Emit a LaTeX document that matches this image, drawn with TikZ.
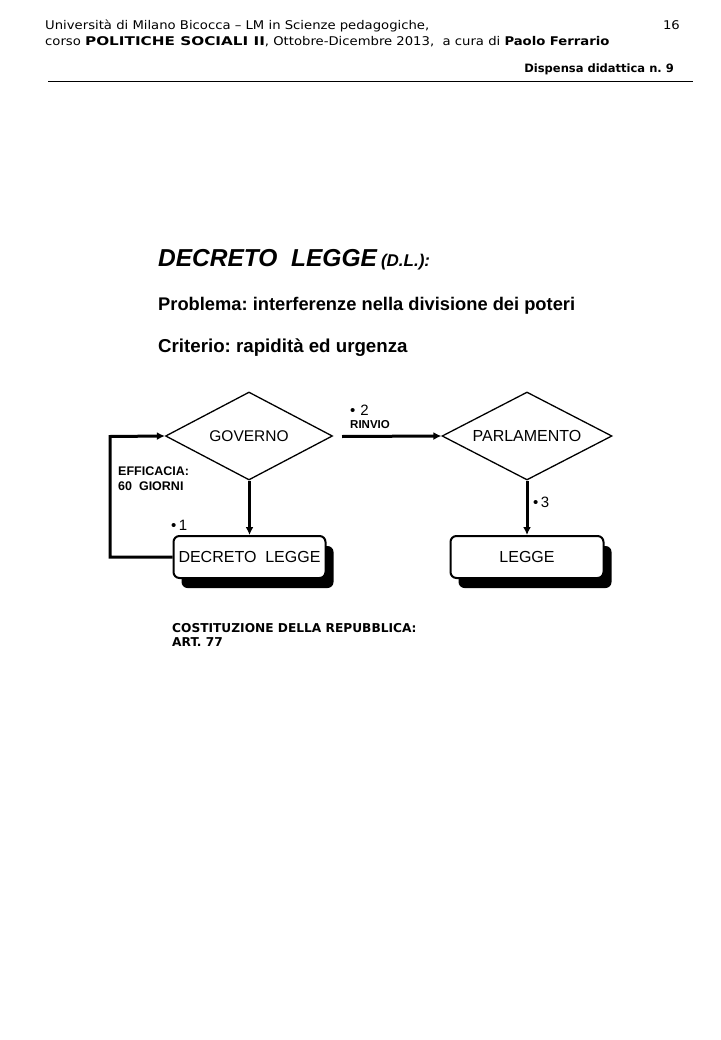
\documentclass[tikz,border=0pt]{standalone}
\usepackage{fontspec}
\setmainfont{Liberation Sans}
\newfontfamily\verd[FakeStretch=1.1]{DejaVu Sans}
\newfontfamily\verdn{DejaVu Sans}
\newfontfamily\verdcaps[FakeStretch=1.27]{DejaVu Sans}
\newfontfamily\verdname[FakeStretch=1.1]{DejaVu Sans}
\usetikzlibrary{shapes.geometric,arrows.meta,shadows}
\frenchspacing
\begin{document}
\begin{tikzpicture}[x=1pt,y=-1pt,
  hdr/.style={anchor=base west,inner sep=0,font=\verd\fontsize{12}{14}\selectfont},
  dia/.style={diamond,draw,line width=1.3pt,minimum width=167pt,minimum height=88pt,inner sep=0},
  dlab/.style={font=\fontsize{15.5}{18}\selectfont,inner sep=0},
  box/.style={rectangle,rounded corners=6pt,draw,line width=2pt,fill=white,minimum width=152pt,minimum height=42pt,inner sep=0,font=\fontsize{16}{18}\selectfont,
    drop shadow={shadow xshift=8pt,shadow yshift=-10pt,fill=black,opacity=1}},
  conn/.style={line width=3pt,-{Latex[length=8pt,width=8pt]}},
  lbl/.style={anchor=base west,inner sep=0},
]
\useasboundingbox (0,0) rectangle (720,1040);
\fill[white] (0,0) rectangle (720,1040);
% header
\node[hdr] (h1) at (45,30) {Università di Milano Bicocca – LM in Scienze pedagogiche,};
\node[hdr] (h2) at (45,46) {corso {\verdcaps\bfseries\fontsize{12}{14}\selectfont POLITICHE SOCIALI II}, Ottobre-Dicembre 2013,\ \ a cura di {\verdname\bfseries\fontsize{12}{14}\selectfont Paolo Ferrario}};
\node[hdr,anchor=base east] (pg) at (680,30) {16};
\node[hdr,anchor=base east,font=\verdn\bfseries\fontsize{11.5}{13}\selectfont] (disp) at (674,73) {Dispensa didattica n. 9};
\coordinate (rl) at (48,82);
\coordinate (rr) at (693,82);
\draw[line width=1pt] (rl) -- (rr);
% titles
\node[lbl,font=\bfseries\itshape\fontsize{24.5}{27}\selectfont] (title) at (158,267) {DECRETO\ \ LEGGE\,{\fontsize{17}{19}\selectfont(D.L.):}};
\node[lbl,font=\bfseries\fontsize{18.3}{22}\selectfont] (prob) at (158,310) {Problema: interferenze nella divisione dei poteri};
\node[lbl,font=\bfseries\fontsize{18.7}{22}\selectfont] (crit) at (158,352) {Criterio: rapidità ed urgenza};
% diagram
\node[dia,label={[dlab]center:GOVERNO}] (gov) at (249,436) {};
\node[dia,minimum width=170pt,label={[dlab,font=\fontsize{16}{18}\selectfont]center:PARLAMENTO}] (parl) at (527,436) {};
\node[box] (dl) at (249.5,557) {DECRETO\ \ LEGGE};
\node[box,minimum width=153pt] (legge) at (527,557) {LEGGE};
\coordinate (rs) at (342,436.5);
\draw[conn] (rs) -- (parl.west);
\draw[conn] (gov.south -| dl.north) -- (dl.north);
\draw[conn] (parl.south -| legge.north) -- (legge.north);
\coordinate (lb) at (110,557);
\coordinate (lt) at (110,436.5);
\draw[conn] (dl.west) -- (lb) -- (lt) -- (gov.west);
% labels
\node[lbl,font=\fontsize{15}{17}\selectfont] (n2) at (350,415) {\textbullet\hspace{5pt}2};
\node[lbl,font=\bfseries\fontsize{11.5}{13}\selectfont] (rinvio) at (350,428) {RINVIO};
\node[lbl,font=\fontsize{15}{17}\selectfont] (n3) at (533,507) {\textbullet\,3};
\node[lbl,font=\fontsize{15}{17}\selectfont] (n1) at (171,530) {\textbullet\,1};
\node[lbl,font=\bfseries\fontsize{12.5}{14}\selectfont] (eff) at (118,475) {EFFICACIA:};
\node[lbl,font=\bfseries\fontsize{12.5}{14}\selectfont] (gg) at (118,490) {60\ \ GIORNI};
\node[lbl,font=\verdn\bfseries\fontsize{12.2}{14}\selectfont] (cost) at (172,632) {COSTITUZIONE DELLA REPUBBLICA:};
\node[lbl,font=\verdn\bfseries\fontsize{12.2}{14}\selectfont] (art) at (172,646) {ART. 77};
\end{tikzpicture}
\end{document}
